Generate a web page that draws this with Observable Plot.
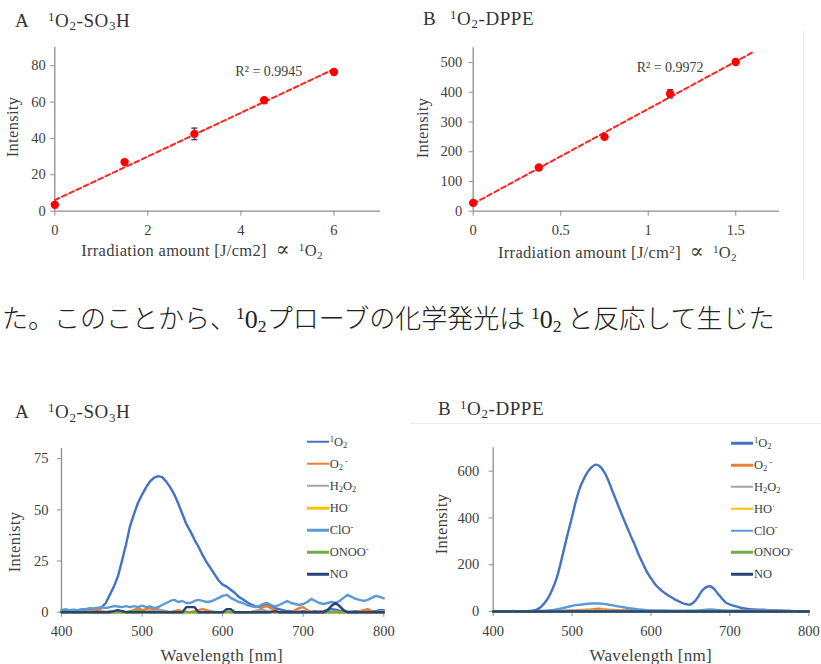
<!DOCTYPE html>
<html>
<head>
<meta charset="utf-8">
<script src="https://cdn.jsdelivr.net/npm/d3@7"></script>
<script src="https://cdn.jsdelivr.net/npm/@observablehq/plot@0.6"></script>
<style>
  html, body { margin:0; padding:0; background:#fff; }
  #root { position:relative; width:821px; height:664px; overflow:hidden; background:#fff;
          font-family:"Liberation Serif","DejaVu Serif",serif; color:#404040; }
  .t { position:absolute; white-space:nowrap; line-height:1; }
  .sup { font-size:0.68em; position:relative; top:-0.48em; }
  .sub { font-size:0.68em; position:relative; top:0.25em; }
  .leg { position:absolute; display:flex; align-items:center; font-size:12.5px; line-height:1;
         transform:translateY(-50%); white-space:nowrap; color:#404040; }
  .leg i { display:inline-block; width:22px; height:2.5px; margin-right:1px; }
  .jp { position:absolute; white-space:nowrap; line-height:1; color:#222;
        font-family:"Noto Sans CJK JP Light","Noto Sans CJK JP","Noto Sans CJK SC",sans-serif; font-weight:300; }
  .jp .n { font-family:"Liberation Serif",serif; font-weight:400; color:#222; }
</style>
</head>
<body>
<div id="root"></div>
<script>
// ---------------- DATA ----------------
// Top charts: intensity vs irradiation amount
const irrA = [0, 1.5, 3, 4.5, 6];
const intA = [3.5, 27, 42.5, 61, 76.5];
const errA = [0.5, 0.8, 3.2, 0.8, 1.0];
const trendXA = [0, 6];
const r2A = [{x: 4.6, y: 77, text: "R² = 0.9945"}];

const irrB = [0, 0.375, 0.75, 1.125, 1.5];
const intB = [28, 147, 250, 395, 502];
const errB = [8, 3, 3, 14, 4];
const trendXB = [0, 1.6];
const r2B = [{x: 1.125, y: 483, text: "R² = 0.9972"}];

const ticksXA = [0, 2, 4, 6];
const ticksYA = [0, 20, 40, 60, 80];
const ticksXB = [0, 0.5, 1, 1.5];
const ticksYB = [0, 100, 200, 300, 400, 500];

// Bottom charts: emission spectra
const wavelengths = [400,405,410,415,420,425,430,435,440,445,
  450,455,460,465,470,475,480,485,490,495,
  500,505,510,515,520,525,530,535,540,545,
  550,555,560,565,570,575,580,585,590,595,
  600,605,610,615,620,625,630,635,640,645,
  650,655,660,665,670,675,680,685,690,695,
  700,705,710,715,720,725,730,735,740,745,
  750,755,760,765,770,775,780,785,790,795,800];
const wlTicks = [400, 500, 600, 700, 800];
const specTicksA = [0, 25, 50, 75];
const specTicksB = [0, 200, 400, 600];

const species = ["1O2", "O2-", "H2O2", "HO", "ClO-", "ONOO-", "NO"];
const speciesLabels = [
  '<span class="sup">1</span>O<span class="sub">2</span>',
  'O<span class="sub">2</span><span class="sup">&nbsp;-</span>',
  'H<span class="sub">2</span>O<span class="sub">2</span>',
  'HO<span class="sup">·</span>',
  'ClO<span class="sup">-</span>',
  'ONOO<span class="sup">-</span>',
  'NO'];
const speciesColors = ["#4472C4", "#ED7D31", "#A5A5A5", "#FFC000", "#5B9BD5", "#70AD47", "#264478"];

// A: 1O2-SO3H
const A_1O2 = [0.5,1.0,0.8,0.5,0.8,0.6,0.8,1.0,1.0,1.2,
  2.5,4.5,8.5,12.5,17.5,25,33,42,48,53.5,
  57.5,61,64,65.8,66.5,66,63.8,61,57.5,53,
  48,43,39.5,35.5,32,28,24.5,21.5,18.5,15.5,
  13.5,12.5,11,9.5,7.5,6.3,5,3.8,3,2.5,
  3.5,4,3,2,1.5,1,0.5,0.5,0.3,0.3,
  0.5,0.3,0.2,0.5,0.3,0.5,1,1.5,1.2,0.8,
  0.5,0.3,0.3,0.5,0.3,0.5,0.3,0.5,0.5,1, 1];
const A_O2m = [0.5,0,1,0.5,1,0.5,0,0.5,1,1.5,
  0.5,0,0.5,0,0,0.5,0,0.5,1,2,
  1,1.5,2,1,1.5,0.5,0,0,0.5,1,
  0.5,0,0,0.5,1,1.5,1,0.5,0,0,
  0,0,0.3,0,0,0,0,0,0.5,1,
  2.5,3,2,1,0,0,0,0,1,2,
  2.5,1,0,0,0.5,0,0,0,0.5,0,
  0,0,0,0,0.5,1,1.5,0.5,0,0, 0];
const A_H2O2 = [0,0,0.3,0,0,0,0.3,0,0,0,
  0,0,0,0,0.3,0,0,0,0,0,
  0,0.3,0.5,0.3,0.8,1,0.5,0,0,0,
  0,0.3,0,0,0,0,0,0,0,0,
  0,0,0,0,0,0,0,0,0.5,1,
  1.2,0.5,0.3,0,0,0,0,0,0,0,
  0,0,0,0,0,0,0,0,0,0,
  0,0,0,0,0,0,0,0,0,0.3, 0.5];
const A_HO = [0,0,0,0,0,0,0,0.3,0,0,
  0,0,0,0,0,0,0,0,0,0,
  0,0,0,0,0,0,0,0,0,0,
  0,0,0,0.3,0,0,0,0,0,0,
  0,0,0,0,0,0,0,0,0,0,
  0,0,0,0,0,0,0,0,0,0,
  0,0,0,0,0,0,0,0,0,0,
  0,0,0,0,0,0,0,0,0,0, 0];
const A_ClO = [1,1.5,1,1.2,1,1.5,1.5,2,1.8,2.2,
  2.4,2,2.5,3,2.8,2.5,3,2.5,3,2.5,
  3.2,2.5,2.8,2,2.5,3.5,4.5,5.5,6,5,
  5.5,4.5,4.5,5.5,6,5.5,5,5.2,6,7,
  8,8.5,7,6,5,4.5,3.5,3,2.5,3,
  4,4.5,3.5,2.8,3.5,4.5,5.5,4.5,4,3.5,
  4,5,6.5,5.5,4.5,4,4.5,5,4.5,5.5,
  7,8.5,7.5,6.5,6,5.5,6,7,8,7.5, 6.8];
const A_ONOO = [0,0,0,0,0,0,0,0,0,0,
  0,0,0,0,0,0,0,0.3,0.5,0.5,
  0.5,0.3,0,0,0,0,0,0,0,0,
  0,0,0,0,0,0,0,0,0,0,
  0,0.3,0,0,0,0,0,0,0,0,
  0,0,0.3,0,0,0,0,0,0,0,
  0,0,0,0,0,0,0,0,0,0,
  0,0,0,0,0,0,0,0,0,0, 0];
const A_NO = [0,0,0,0,0,0,0,0,0,0,
  0,0,0,0.5,1,0.5,0,0,0,0,
  0,0,0,0,0,0,0,0,0,0,
  0,2.5,2.5,2.5,0,0,0,0,0,0,
  0,1.5,1.5,0,0,0,0,0,0,0,
  0,0,0,0.5,0,0,0,0,0,0,
  0,0,0,0,0,0,1,3,4.5,3,
  1,0,0,0,0,0,0,0,0,0, 0];

// B: 1O2-DPPE
const B_1O2 = [0,0,0.5,0.5,1,2,1.5,1,1,2,
  4,8,18,36,60,95,138,200,270,340,
  405,475,530,568,598,618,628,621,600,568,
  525,482,440,398,358,318,280,238,203,168,
  142,118,100,85,73,62,52,44,36,31,
  30,42,64,90,104,108,96,75,55,38,
  30,24,20,15,12,10,9,8,8,7,
  6,5,4,3,2,2,1,1,0.5,0, 0];
const B_O2m = [0,0,0,0.5,1,1.5,1,1,1,1,
  1,1,1,1.5,1.5,2,2,2.5,3,4,
  4.5,5,6,7,7.5,9,11,12,9,8,
  7,6,5,5,4,4,3,3,2.5,2,
  2,2,2,1.5,1.5,1.5,1.5,1.5,1.5,2,
  2,2,2,3,3.5,4,3.5,3,2,2,
  2,2,2,2,2,2,2,2.5,3,3,
  3,3,2.5,2,2,2,1.5,1,1,0.5, 0.5];
const B_H2O2 = [0.5,0.5,0.5,0.5,0.5,0.5,0.5,0.5,0.5,0.5,
  0.5,0.5,0.5,0.5,1,1,1,1.5,2,2,
  2.5,2.5,3,3,3,3,3,3,3,3,
  3,2.5,2.5,2,2,2,1.5,1.5,1.5,1,
  1,1,1,1,1,1,1,1,1,1,
  1,1,1,1,1.5,1.5,1.5,1,1,1,
  1,1,1,1,1,1,1,1,1,1,
  1,1,1,0.5,0.5,0.5,0.5,0.5,0.5,0.5, 0.5];
const B_HO = [0,0,0,0,0,0,0,0,0,0,
  0,0,0,0,0.5,0.5,0.5,1,1,1,
  1.5,1.5,1.5,2,2,2,2,2,2,1.5,
  1.5,1.5,1,1,1,1,1,0.5,0.5,0.5,
  0.5,0.5,0.5,0.5,0.5,0.5,0.5,0.5,0.5,0.5,
  0.5,0.5,0.5,0.5,0.5,0.5,0.5,0.5,0.5,0.5,
  0,0,0,0,0,0,0,0,0,0,
  0,0,0,0,0,0,0,0,0,0, 0];
const B_ClO = [1,1,1,1,1,1,1,1,1,1,
  1,1.5,2,3,4,6,9,12,16,20,
  24,27,29,31,33,34,34.5,34,32.5,30,
  27,24,21,18,15,13,11,9,7.5,6,
  5,4.5,4,4,4,3.5,3.5,3,3,3,
  3,3.5,4,6,8,9,8,6,5,4,
  3,3,3,3,3,3,3,3.5,4,4,
  4,3.5,3,3,2,2,2,1.5,1,1, 1];
const B_ONOO = [0,0,0,0,0,0,0,0,0,0,
  0,0,0,0,0,0.5,0.5,0.5,1,1,
  1,1,1,1,1,1,1,1,1,1,
  1,1,1,1,1,1,0.5,0.5,0.5,0.5,
  0.5,0.5,0.5,0.5,0.5,0.5,0.5,0.5,0.5,0.5,
  0,0,0,0,0,0,0,0,0,0,
  0,0,0,0,0,0,0,0,0,0,
  0,0,0,0,0,0,0,0,0,0, 0];
const B_NO = [0,0,0,0,0,0.5,0,0,0,0,
  0,0,0,0,0,0,0,0,0,0,
  0,0,0,0,0,0,0,0,0,0,
  0,0,0,0,0,0,0,0,0,0,
  0,0,0,0,0,0,0,0,0,0,
  0,0,0,0,0,0,0,0,0,0,
  0,0,0,0,0,0,0,0,0,0,
  0,0,0,0,0,0,0,0,0,0, 0];

const specA = [A_1O2, A_O2m, A_H2O2, A_HO, A_ClO, A_ONOO, A_NO];
const specB = [B_1O2, B_O2m, B_H2O2, B_HO, B_ClO, B_ONOO, B_NO];

// ---------------- DRAWING ----------------
const root = document.getElementById("root");
const textGray = "#404040";
const axisGray = "#8e8e8e";
const baseStyle = {background: "transparent", fontFamily: "Liberation Serif", fontSize: "14.5px", color: textGray, overflow: "visible"};

function place(svg, left, top) {
  svg.style.position = "absolute";
  svg.style.left = left + "px";
  svg.style.top = top + "px";
  root.appendChild(svg);
}
function addText(html, o) {
  const d = document.createElement("div");
  d.className = "t";
  d.innerHTML = html;
  d.style.left = o.left + "px";
  d.style.top = o.top + "px";
  d.style.fontSize = o.size + "px";
  if (o.color) d.style.color = o.color;
  if (o.ls) d.style.letterSpacing = o.ls + "px";
  if (o.center) d.style.transform = "translate(-50%,-50%)" + (o.rotate ? " rotate(-90deg)" : "");
  root.appendChild(d);
}
function linreg(xs, ys) {
  const mx = d3.mean(xs), my = d3.mean(ys);
  const b = d3.sum(xs, (x, i) => (x - mx) * (ys[i] - my)) / d3.sum(xs, x => (x - mx) ** 2);
  return {a: my - b * mx, b};
}
const hline = {draw(ctx, size) { const w = Math.sqrt(size / Math.PI); ctx.moveTo(-w, 0); ctx.lineTo(w, 0); }};

function scatterChart(o) {
  const pts = o.xs.map((x, i) => ({x, y: o.ys[i], e: o.errs[i]}));
  const {a, b} = linreg(o.xs, o.ys);
  const trend = o.trendX.map(x => ({x, y: a + b * x}));
  const svg = Plot.plot({
    width: o.width, height: o.height,
    marginLeft: o.m[0], marginRight: o.m[1], marginTop: o.m[2], marginBottom: o.m[3],
    x: {domain: o.xDomain}, y: {domain: o.yDomain},
    style: baseStyle,
    marks: [
      Plot.axisX({ticks: o.xTicks, tickFormat: d => String(d), tickSize: 5, tickPadding: 9, stroke: axisGray, fill: textGray, fontSize: 14.5, label: null}),
      Plot.axisY({ticks: o.yTicks, tickFormat: d => String(d), tickSize: 4, tickPadding: o.yPad, stroke: axisGray, fill: textGray, fontSize: 14.5, label: null}),
      Plot.ruleY([o.yDomain[0]], {stroke: axisGray, strokeWidth: 1.3}),
      Plot.ruleX([o.xDomain[0]], {stroke: axisGray, strokeWidth: 1.3}),
      Plot.line(trend, {x: "x", y: "y", stroke: "#ff2424", strokeWidth: 2, strokeDasharray: "5,3"}),
      Plot.ruleX(pts, {x: "x", y1: d => d.y - d.e, y2: d => d.y + d.e, stroke: "#404040", strokeWidth: 1.3}),
      Plot.dot(pts, {x: "x", y: d => d.y + d.e, symbol: hline, r: 3, fill: "none", stroke: "#404040", strokeWidth: 1.3}),
      Plot.dot(pts, {x: "x", y: d => d.y - d.e, symbol: hline, r: 3, fill: "none", stroke: "#404040", strokeWidth: 1.3}),
      Plot.dot(pts, {x: "x", y: "y", r: 4.2, fill: "#ff0000"}),
      Plot.text(o.r2, {x: "x", y: "y", text: "text", fontSize: 14, fill: textGray})
    ]
  });
  place(svg, o.left, o.top);
}

function spectrumChart(o) {
  const table = [];
  o.series.forEach((vals, s) => vals.forEach((v, i) => table.push({wl: wavelengths[i], v, name: species[s]})));
  const svg = Plot.plot({
    width: o.width, height: o.height,
    marginLeft: o.m[0], marginRight: o.m[1], marginTop: o.m[2], marginBottom: o.m[3],
    x: {domain: [400, 800]}, y: {domain: o.yDomain},
    color: {domain: species, range: speciesColors},
    style: baseStyle,
    marks: [
      Plot.axisX({ticks: wlTicks, tickSize: 5, tickPadding: 9, stroke: axisGray, fill: textGray, fontSize: 14.5, label: null}),
      Plot.axisY({ticks: o.yTicks, tickFormat: d => String(d), tickSize: 4, tickPadding: o.yPad, stroke: axisGray, fill: textGray, fontSize: 14.5, label: null}),
      Plot.ruleY([0], {stroke: axisGray, strokeWidth: 1.3}),
      Plot.ruleX([400], {stroke: axisGray, strokeWidth: 1.3}),
      Plot.line(table, {x: "wl", y: "v", z: "name", stroke: "name", strokeWidth: 2.4, curve: o.curve, strokeLinejoin: "round"})
    ]
  });
  place(svg, o.left, o.top);
}

function legend(left, top0, step) {
  species.forEach((s, i) => {
    const d = document.createElement("div");
    d.className = "leg";
    d.style.left = left + "px";
    d.style.top = (top0 + step * i) + "px";
    d.innerHTML = `<i style="background:${speciesColors[i]}"></i><span>${speciesLabels[i]}</span>`;
    root.appendChild(d);
  });
}

// faint page borders from the source image
const vline = document.createElement("div");
vline.style.cssText = "position:absolute;left:803px;top:30px;width:1px;height:250px;background:#ececec;";
root.appendChild(vline);
const hl = document.createElement("div");
hl.style.cssText = "position:absolute;left:410px;top:423px;width:411px;height:1px;background:#ececec;";
root.appendChild(hl);

// Top-left (A)
scatterChart({xs: irrA, ys: intA, errs: errA, trendX: trendXA, r2: r2A,
  xDomain: [0, 7], yDomain: [0, 90], xTicks: ticksXA, yTicks: ticksYA, yPad: 5,
  left: 0, top: 0, width: 400, height: 270, m: [54.3, 20, 47, 59.3]});
// Top-right (B)
scatterChart({xs: irrB, ys: intB, errs: errB, trendX: trendXB, r2: r2B,
  xDomain: [0, 1.75], yDomain: [0, 550], xTicks: ticksXB, yTicks: ticksYB, yPad: 7,
  left: 400, top: 0, width: 421, height: 270, m: [72.7, 42, 47.2, 59.3]});
// Bottom-left (A)
spectrumChart({series: specA, yDomain: [0, 80], yTicks: specTicksA, yPad: 9, curve: "linear",
  left: 0, top: 390, width: 410, height: 274, m: [61, 26.7, 58, 52.3]});
// Bottom-right (B)
spectrumChart({series: specB, yDomain: [0, 700], yTicks: specTicksB, yPad: 10, curve: "catmull-rom",
  left: 410, top: 390, width: 411, height: 274, m: [82.7, 12.7, 57.3, 53]});

// Titles
const fA = '<span class="sup">1</span>O<span class="sub">2</span>-SO<span class="sub">3</span>H';
const fB = '<span class="sup">1</span>O<span class="sub">2</span>-DPPE';
addText("A", {left: 15, top: 10.8, size: 19, color: "#333"});
addText(fA, {left: 48, top: 10.8, size: 19, color: "#333", ls: 0.6});
addText("B", {left: 423, top: 9, size: 19, color: "#333"});
addText(fB, {left: 450, top: 9, size: 19, color: "#333", ls: 0.6});
addText("A", {left: 15, top: 402.4, size: 19, color: "#333"});
addText(fA, {left: 48, top: 402.4, size: 19, color: "#333", ls: 0.6});
addText("B", {left: 438, top: 399, size: 19, color: "#333"});
addText(fB, {left: 460, top: 399, size: 19, color: "#333", ls: 0.6});

// Axis titles
const prop = '&nbsp;&nbsp;<span style="font-size:1.25em;font-family:\'DejaVu Serif\'">∝</span>&nbsp;&nbsp;<span class="sup">1</span>O<span class="sub">2</span>';
addText("Irradiation amount [J/cm2]" + prop, {left: 202, top: 249, size: 16.5, center: true, ls: 0.3});
addText('Irradiation amount [J/cm<span class="sup">2</span>]' + prop, {left: 617.5, top: 251, size: 16.5, center: true, ls: 0.3});
addText("Intensity", {left: 13, top: 127, size: 16.5, center: true, rotate: true, ls: 0.3});
addText("Intensity", {left: 423, top: 128, size: 16.5, center: true, rotate: true, ls: 0.3});
addText("Wavelength [nm]", {left: 221.7, top: 655, size: 17, center: true, ls: 0.3});
addText("Wavelength [nm]", {left: 650.8, top: 655, size: 17, center: true, ls: 0.3});
addText("Intenisty", {left: 15, top: 542, size: 16.5, center: true, rotate: true, ls: 0.3});
addText("Intensity", {left: 441.7, top: 524, size: 16.5, center: true, rotate: true, ls: 0.3});

// Legends
legend(306.7, 441.7, 22.1);
legend(731, 443.3, 21.8);

// Japanese body text line
const jp = document.createElement("div");
jp.className = "jp";
jp.style.left = "2px";
jp.style.top = "303.5px";
jp.style.fontSize = "26px";
const o2 = '<span class="n"><span class="sup">1</span>0<span class="sub">2</span></span>';
jp.innerHTML = "た。このことから、" + o2 + "プローブの化学発光は " + o2 + " と反応して生じた";
root.appendChild(jp);
</script>
</body>
</html>
